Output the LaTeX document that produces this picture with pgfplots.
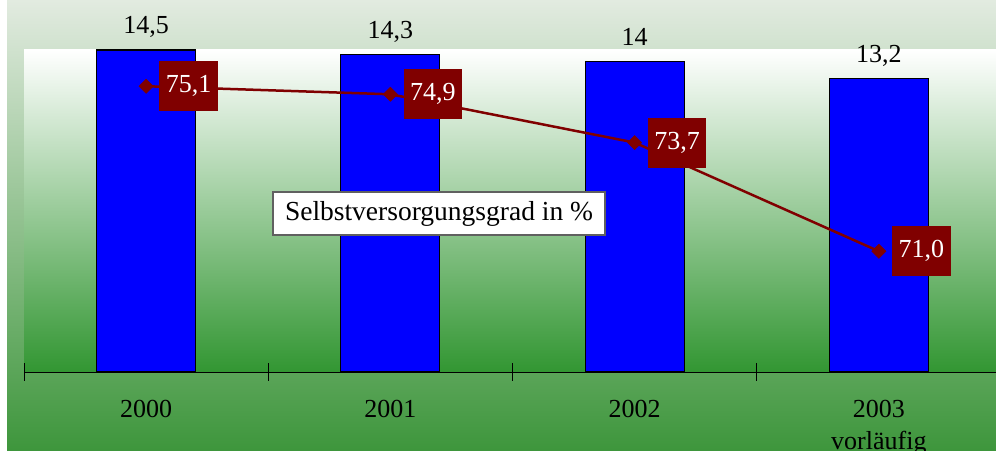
\documentclass[border=0pt]{standalone}
\usepackage{fontspec}
\setmainfont{Liberation Serif}
\usepackage{pgfplots}
\pgfplotsset{compat=1.18}
\definecolor{darkred}{RGB}{128,0,0}
\definecolor{bgtop}{RGB}{226,235,224}
\definecolor{bgbot}{RGB}{62,150,60}
\definecolor{intop}{RGB}{255,255,255}
\definecolor{inbot}{RGB}{50,150,50}
\definecolor{barblue}{RGB}{0,0,255}
\definecolor{boxgray}{RGB}{96,96,96}
\newcommand{\bigf}{\fontsize{26}{32}\selectfont}
\begin{document}
\begin{tikzpicture}[x=1pt,y=1pt]
\useasboundingbox (0,0) rectangle (996,450);
\fill[white] (0,0) rectangle (996,450);
\shade[top color=bgtop, bottom color=bgbot] (7,0) rectangle (996,450);
\shade[top color=intop, bottom color=inbot] (24,78) rectangle (996,400);
\begin{axis}[
  at={(24pt,78pt)}, anchor=south west,
  scale only axis, width=977pt, height=322pt,
  xmin=-0.5, xmax=3.5, ymin=0, ymax=14.5,
  axis x line*=bottom, axis y line=none,
  x axis line style={line width=1pt, black, -},
  xtick={0,1,2,3},
  xticklabels={2000,2001,2002,{2003\\vorläufig}},
  major tick length=0pt,
  minor xtick={-0.5,0.5,1.5,2.5},
  minor tick length=17pt,
  tick align=center,
  minor tick style={line width=1pt,black},
  xticklabel style={font=\bigf, align=center, anchor=north, yshift=-28pt, inner sep=0pt},
  clip=false,
]
\addplot[ybar, bar width=99pt, fill=barblue, draw=black, line width=1.2pt,
  nodes near coords, point meta=explicit symbolic,
  every node near coord/.append style={anchor=base, yshift=16pt, font=\bigf, text=black, inner sep=0pt}]
  coordinates {(0,14.5)[14,5] (1,14.3)[14,3] (2,14)[14] (3,13.2)[13,2]};
\end{axis}
\begin{axis}[
  at={(24pt,78pt)}, anchor=south west,
  scale only axis, width=977pt, height=322pt,
  xmin=-0.5, xmax=3.5, ymin=68, ymax=76,
  axis lines=none, clip=false,
]
\addplot[darkred, line width=2.5pt, mark=square*, mark size=5pt,
  mark options={rotate=45, solid, fill=darkred, line width=0.5pt},
  nodes near coords, point meta=explicit symbolic,
  every node near coord/.append style={anchor=west, xshift=13pt, fill=darkred, text=white, font=\bigf, minimum height=50pt, inner xsep=6.5pt, inner ysep=0pt}]
  coordinates {(0,75.1)[75,1] (1,74.9)[74,9] (2,73.7)[73,7] (3,71.0)[71,0]};
\node[draw=boxgray, line width=1.2pt, fill=white, font=\fontsize{27.5}{33}\selectfont, minimum height=43pt, minimum width=332pt, inner xsep=8pt] at (rel axis cs:0.4248,0.492) {Selbstversorgungsgrad in \%};
\end{axis}
\end{tikzpicture}
\end{document}
